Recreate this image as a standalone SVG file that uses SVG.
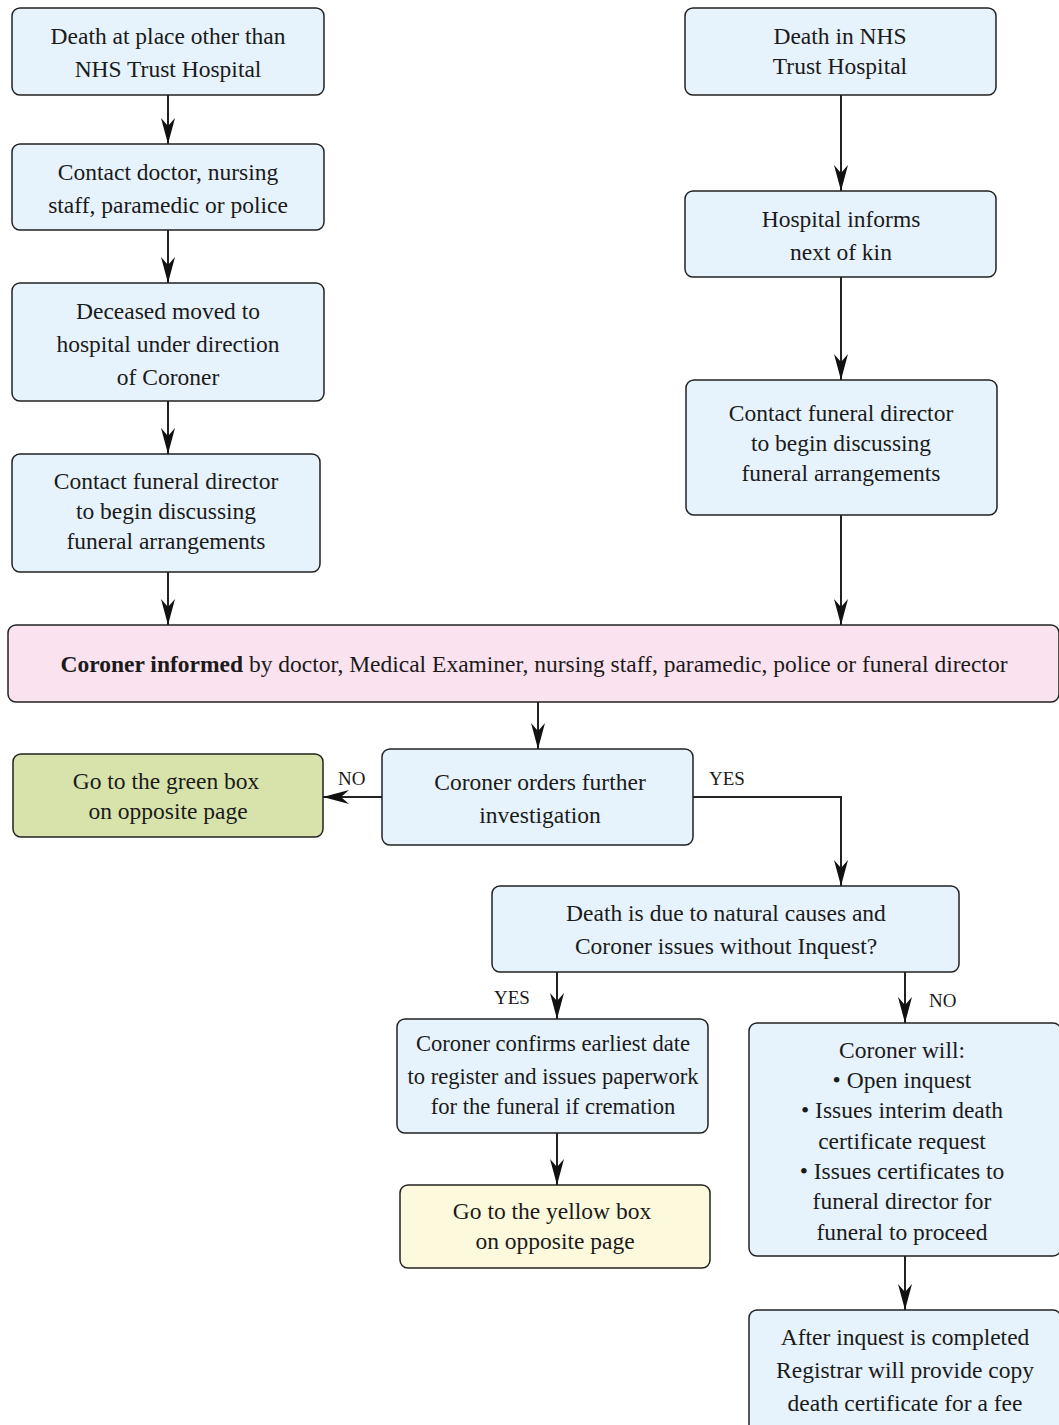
<svg xmlns="http://www.w3.org/2000/svg" width="1059" height="1425" viewBox="0 0 1059 1425">
<style>
.b{fill:#e6f3fc;stroke:#222;stroke-width:1.5}
.p{fill:#fbe2ef;stroke:#222;stroke-width:1.5}
.g{fill:#d8e3ab;stroke:#222;stroke-width:1.5}
.y{fill:#fdf9dc;stroke:#222;stroke-width:1.5}
text{font-family:"Liberation Serif","DejaVu Serif",serif;font-size:23.5px;fill:#1a1a1a;text-anchor:middle}
.sm{font-size:22.6px}
.lbl{font-size:19px;text-anchor:start}
.c{fill:none;stroke:#222;stroke-width:2;marker-end:url(#ah)}
</style>
<defs>
<marker id="ah" viewBox="0 0 26 14" refX="26" refY="7" markerWidth="26" markerHeight="14" markerUnits="userSpaceOnUse" orient="auto">
<path d="M0,0 L26,7 L0,14 L8,7 z" fill="#111"/>
</marker>
</defs>
<g id="connectors">
<path class="c" d="M168,95 V144"/>
<path class="c" d="M168,230 V283"/>
<path class="c" d="M168,401 V454"/>
<path class="c" d="M168,572 V625"/>
<path class="c" d="M841,95 V191"/>
<path class="c" d="M841,277 V380"/>
<path class="c" d="M841,515 V625"/>
<path class="c" d="M538,702 V749"/>
<path class="c" d="M382,797 H323"/>
<path class="c" d="M693,797 H841 V886"/>
<path class="c" d="M557,972 V1019"/>
<path class="c" d="M905,972 V1023"/>
<path class="c" d="M557,1133 V1185"/>
<path class="c" d="M905,1256 V1310"/>
<text class="lbl" x="338" y="785">NO</text>
<text class="lbl" x="709" y="785">YES</text>
<text class="lbl" x="494" y="1004">YES</text>
<text class="lbl" x="929" y="1007">NO</text>
</g>
<g id="n1"><rect class="b" x="12" y="8" width="312" height="87" rx="8"/><text x="168" y="44">Death at place other than</text><text x="168" y="77">NHS Trust Hospital</text></g>
<g id="n2"><rect class="b" x="12" y="144" width="312" height="86" rx="8"/><text x="168" y="180">Contact doctor, nursing</text><text x="168" y="213">staff, paramedic or police</text></g>
<g id="n3"><rect class="b" x="12" y="283" width="312" height="118" rx="8"/><text x="168" y="319">Deceased moved to</text><text x="168" y="352">hospital under direction</text><text x="168" y="385">of Coroner</text></g>
<g id="n4"><rect class="b" x="12" y="454" width="308" height="118" rx="8"/><text x="166" y="489">Contact funeral director</text><text x="166" y="519">to begin discussing</text><text x="166" y="549">funeral arrangements</text></g>
<g id="n5"><rect class="b" x="685" y="8" width="311" height="87" rx="8"/><text x="840" y="44">Death in NHS</text><text x="840" y="74">Trust Hospital</text></g>
<g id="n6"><rect class="b" x="685" y="191" width="311" height="86" rx="8"/><text x="841" y="227">Hospital informs</text><text x="841" y="260">next of kin</text></g>
<g id="n7"><rect class="b" x="686" y="380" width="311" height="135" rx="8"/><text x="841" y="421">Contact funeral director</text><text x="841" y="451">to begin discussing</text><text x="841" y="481">funeral arrangements</text></g>
<g id="n8"><rect class="p" x="8" y="625" width="1051" height="77" rx="8"/><text x="534" y="672"><tspan font-weight="bold">Coroner informed</tspan> by doctor, Medical Examiner, nursing staff, paramedic, police or funeral director</text></g>
<g id="n9"><rect class="g" x="13" y="754" width="310" height="83" rx="8"/><text x="166" y="789">Go to the green box</text><text x="168" y="819">on opposite page</text></g>
<g id="n10"><rect class="b" x="382" y="749" width="311" height="96" rx="8"/><text x="540" y="790">Coroner orders further</text><text x="540" y="823">investigation</text></g>
<g id="n11"><rect class="b" x="492" y="886" width="467" height="86" rx="8"/><text x="726" y="921">Death is due to natural causes and</text><text x="726" y="954">Coroner issues without Inquest?</text></g>
<g id="n12"><rect class="b" x="397" y="1019" width="311" height="114" rx="8"/><text class="sm" x="553" y="1051">Coroner confirms earliest date</text><text class="sm" x="553" y="1084">to register and issues paperwork</text><text class="sm" x="553" y="1114">for the funeral if cremation</text></g>
<g id="n13"><rect class="y" x="400" y="1185" width="310" height="83" rx="8"/><text x="552" y="1219">Go to the yellow box</text><text x="555" y="1249">on opposite page</text></g>
<g id="n14"><rect class="b" x="749" y="1023" width="312" height="233" rx="8"/><text x="902" y="1058">Coroner will:</text><text x="902" y="1088">• Open inquest</text><text x="902" y="1118">• Issues interim death</text><text x="902" y="1149">certificate request</text><text x="902" y="1179">• Issues certificates to</text><text x="902" y="1209">funeral director for</text><text x="902" y="1240">funeral to proceed</text></g>
<g id="n15"><rect class="b" x="749" y="1310" width="312" height="130" rx="8"/><text x="905" y="1345">After inquest is completed</text><text x="905" y="1378">Registrar will provide copy</text><text x="905" y="1411">death certificate for a fee</text></g>
</svg>
